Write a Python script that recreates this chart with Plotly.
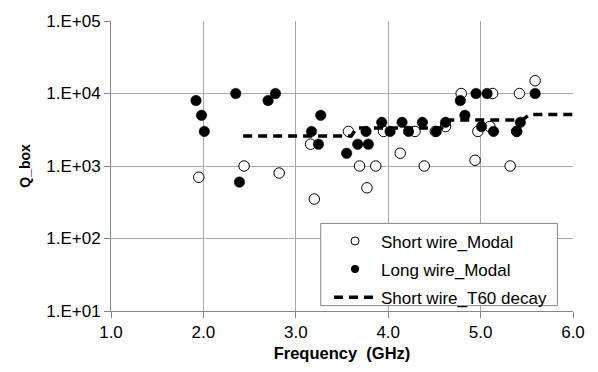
import plotly.graph_objects as go

# Short wire_Modal (open circles)
short_f = [1.95, 2.44, 2.82, 3.16, 3.20, 3.57, 3.69, 3.77, 3.865, 3.95, 4.13, 4.29, 4.39,
           4.51, 4.62, 4.79, 4.94, 4.97, 5.10, 5.13, 5.32, 5.39, 5.42, 5.59]
short_q = [700, 1000, 800, 2000, 350, 3000, 1000, 500, 1000, 3000, 1500, 3000, 1000,
           3000, 3500, 10000, 1200, 3000, 3500, 10000, 1000, 3000, 10000, 15000]

# Long wire_Modal (filled circles)
long_f = [1.92, 1.98, 2.01, 2.35, 2.39, 2.70, 2.78, 3.17, 3.245, 3.27, 3.55, 3.67, 3.76,
          3.785, 3.93, 4.02, 4.15, 4.22, 4.37, 4.52, 4.62, 4.78, 4.83, 4.95, 5.01, 5.07,
          5.14, 5.39, 5.43, 5.59]
long_q = [8000, 5000, 3000, 10000, 600, 8000, 10000, 3000, 2000, 5000, 1500, 2000, 3000,
          2000, 4000, 3000, 4000, 3000, 4000, 3000, 4000, 8000, 5000, 10000, 3500, 10000,
          3000, 3000, 4000, 10000]

# Short wire_T60 decay (dashed line)
t60_f = [2.43, 3.60, 3.66, 4.58, 4.65, 5.45, 5.53, 6.0]
t60_q = [2600, 2600, 3350, 3350, 4300, 4300, 5150, 5150]

y_tickvals = [10, 100, 1000, 10000, 100000]
y_ticktext = ["1.E+01", "1.E+02", "1.E+03", "1.E+04", "1.E+05"]
x_tickvals = [1, 2, 3, 4, 5, 6]
x_ticktext = ["1.0", "2.0", "3.0", "4.0", "5.0", "6.0"]

FONT = "Liberation Sans, Arial, sans-serif"
GRID = "#aaaaaa"
AXIS = "#868686"

fig = go.Figure()
fig.add_trace(go.Scatter(x=short_f, y=short_q, mode="markers", showlegend=False,
                         marker=dict(symbol="circle", size=10.5, color="white",
                                     line=dict(color="black", width=1))))
fig.add_trace(go.Scatter(x=long_f, y=long_q, mode="markers", showlegend=False,
                         marker=dict(symbol="circle", size=10.5, color="black",
                                     line=dict(color="black", width=0.5))))
fig.add_trace(go.Scatter(x=t60_f, y=t60_q, mode="lines", showlegend=False,
                         line=dict(color="black", width=3.5, dash="9px,6px")))

# legend-only entries
fig.add_trace(go.Scatter(x=[None], y=[None], mode="markers", name="Short wire_Modal",
                         legendgroup="a",
                         marker=dict(symbol="circle", size=8, color="white",
                                     line=dict(color="black", width=1))))
fig.add_trace(go.Scatter(x=[None], y=[None], mode="markers", name="Long wire_Modal",
                         legendgroup="b",
                         marker=dict(symbol="circle", size=8, color="black")))
fig.add_trace(go.Scatter(x=[None], y=[None], mode="lines", name="Short wire_T60 decay",
                         legendgroup="c",
                         line=dict(color="black", width=3.5, dash="9px,6px")))

L, R, T, B = 110.7, 573.3, 15.0, 317.3
W, H = 598, 372

def px2paper_x(px):
    return (px - L) / (R - L)

def px2paper_y(py):
    return (B - py) / (B - T)

fig.add_shape(type="rect", xref="paper", yref="paper",
              x0=px2paper_x(320.7), x1=px2paper_x(557.7),
              y0=px2paper_y(311.7), y1=px2paper_y(226),
              fillcolor="white", line=dict(color="#888888", width=1), layer="above")

fig.update_layout(
    width=W, height=H,
    margin=dict(l=L, r=W - R, t=T, b=H - B),
    paper_bgcolor="white", plot_bgcolor="white",
    font=dict(family=FONT, size=17, color="black"),
    showlegend=True,
    legend=dict(x=px2paper_x(329), y=px2paper_y(226), xanchor="left", yanchor="top",
                bgcolor="rgba(0,0,0,0)", borderwidth=0, font=dict(size=17),
                tracegroupgap=3, traceorder="grouped", itemwidth=42),
    xaxis=dict(range=[1, 6], tickvals=x_tickvals, ticktext=x_ticktext,
               showgrid=True, gridcolor=GRID, gridwidth=1,
               showline=True, linecolor=AXIS, linewidth=1,
               ticks="outside", ticklen=6, tickcolor=AXIS,
               zeroline=False,
               title=dict(text="<b>Frequency  (GHz)</b>", font=dict(size=16.5), standoff=6)),
    yaxis=dict(type="log", range=[1, 5], tickvals=y_tickvals, ticktext=y_ticktext,
               showgrid=True, gridcolor=GRID, gridwidth=1,
               showline=True, linecolor=AXIS, linewidth=1,
               ticks="outside", ticklen=6, tickcolor=AXIS,
               zeroline=False,
               title=dict(text="<b>Q_box</b>", font=dict(size=14), standoff=12)),
)

fig.write_html("out.html")
